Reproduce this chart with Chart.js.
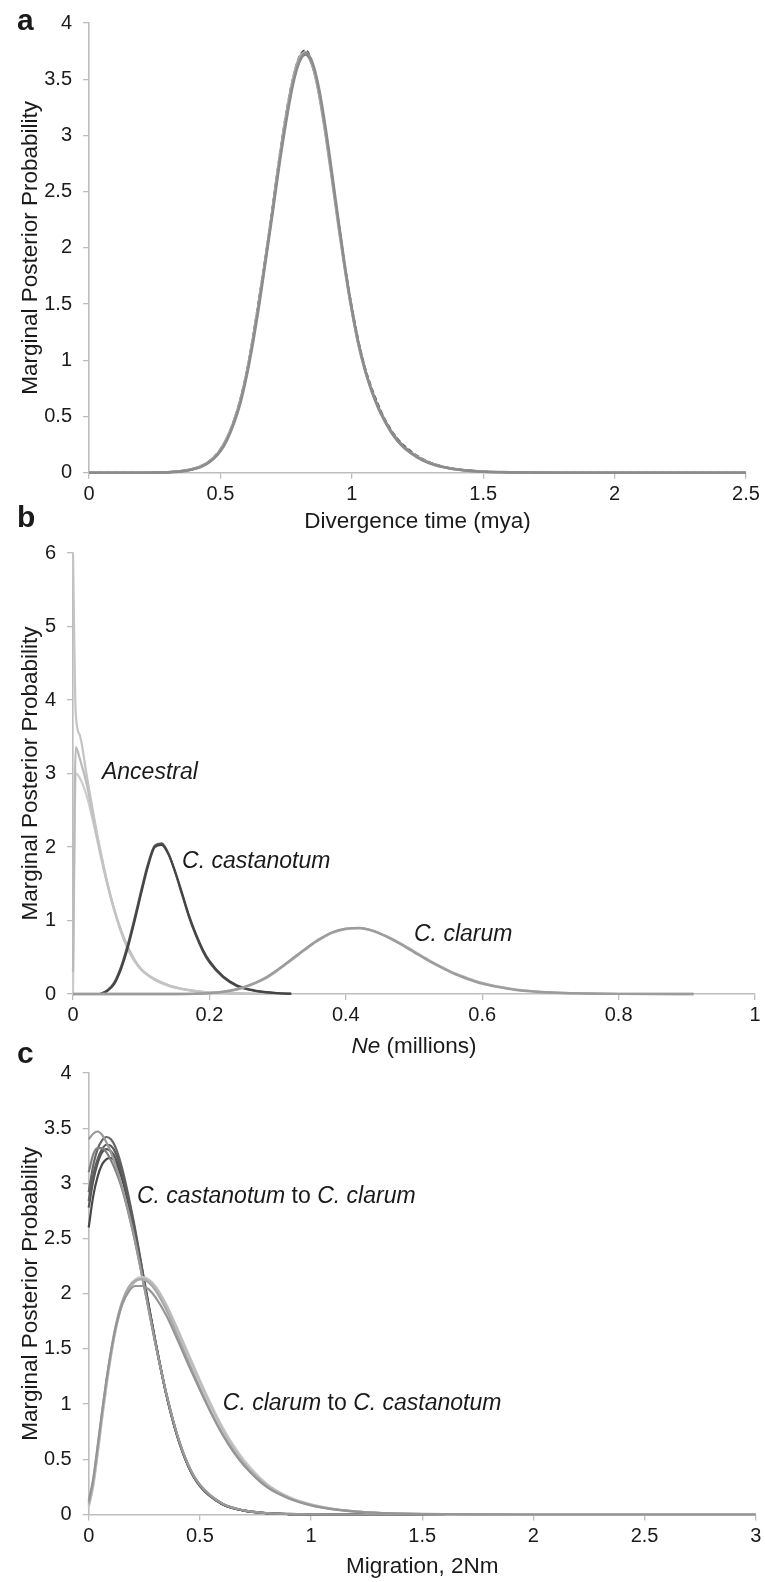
<!DOCTYPE html>
<html>
<head>
<meta charset="utf-8">
<script src="https://cdn.jsdelivr.net/npm/chart.js@4/dist/chart.umd.min.js"></script>
<style>
body { margin: 0; background: #fff; }
#wrap { position: relative; width: 765px; height: 1582px; }
canvas { position: absolute; left: 0; }
</style>
</head>
<body>
<div id="wrap">
  <canvas id="chartA" width="765" height="545" style="top:0px"></canvas>
  <canvas id="chartB" width="765" height="545" style="top:530px"></canvas>
  <canvas id="chartC" width="765" height="532" style="top:1050px"></canvas>
</div>
<script>
// ---- panel a: divergence time ----
const divX = [0, 0.1, 0.2, 0.25, 0.3, 0.325, 0.35, 0.375, 0.4, 0.425, 0.45, 0.475, 0.5, 0.525, 0.55, 0.575, 0.6, 0.625, 0.65, 0.675, 0.7, 0.725, 0.75, 0.775, 0.8, 0.825, 0.85, 0.875, 0.9, 0.925, 0.95, 0.975, 1.0, 1.025, 1.05, 1.075, 1.1, 1.125, 1.15, 1.175, 1.2, 1.25, 1.3, 1.35, 1.4, 1.45, 1.5, 1.6, 1.7, 1.8, 2.0, 2.5];
const divRun1 = [0, 0, 0, 0.001, 0.004, 0.008, 0.014, 0.022, 0.035, 0.055, 0.085, 0.13, 0.2, 0.3, 0.44, 0.63, 0.88, 1.2, 1.56, 1.95, 2.36, 2.78, 3.15, 3.46, 3.66, 3.72, 3.62, 3.38, 3.03, 2.62, 2.2, 1.8, 1.45, 1.15, 0.92, 0.74, 0.59, 0.47, 0.37, 0.29, 0.23, 0.14, 0.085, 0.05, 0.03, 0.018, 0.01, 0.004, 0.001, 0, 0, 0];
const divRun2 = [0, 0, 0, 0.002, 0.005, 0.01, 0.016, 0.025, 0.038, 0.06, 0.09, 0.14, 0.21, 0.31, 0.46, 0.65, 0.9, 1.23, 1.6, 1.98, 2.4, 2.82, 3.2, 3.5, 3.7, 3.76, 3.64, 3.4, 3.06, 2.64, 2.23, 1.83, 1.48, 1.18, 0.94, 0.76, 0.61, 0.48, 0.38, 0.3, 0.24, 0.15, 0.09, 0.055, 0.032, 0.02, 0.011, 0.004, 0.001, 0, 0, 0];
const divRun3 = [0, 0, 0, 0.001, 0.003, 0.007, 0.012, 0.02, 0.032, 0.05, 0.08, 0.125, 0.19, 0.29, 0.43, 0.61, 0.86, 1.17, 1.53, 1.93, 2.33, 2.75, 3.12, 3.44, 3.65, 3.73, 3.65, 3.42, 3.07, 2.66, 2.23, 1.82, 1.46, 1.16, 0.92, 0.73, 0.58, 0.46, 0.36, 0.28, 0.22, 0.135, 0.08, 0.048, 0.028, 0.016, 0.009, 0.003, 0.001, 0, 0, 0];
const divRun4 = [0, 0, 0, 0.001, 0.004, 0.009, 0.015, 0.024, 0.037, 0.058, 0.088, 0.135, 0.205, 0.31, 0.45, 0.64, 0.89, 1.21, 1.57, 1.96, 2.37, 2.8, 3.18, 3.49, 3.69, 3.74, 3.63, 3.37, 3.01, 2.6, 2.18, 1.79, 1.44, 1.14, 0.91, 0.73, 0.58, 0.46, 0.36, 0.28, 0.22, 0.14, 0.085, 0.05, 0.03, 0.018, 0.01, 0.004, 0.001, 0, 0, 0];
const divTicksX = [0, 0.5, 1, 1.5, 2, 2.5];
const divTicksY = [0, 0.5, 1, 1.5, 2, 2.5, 3, 3.5, 4];

// ---- panel b: Ne ----
const ancX = [0, 0.004, 0.01, 0.02, 0.03, 0.04, 0.05, 0.06, 0.07, 0.08, 0.09, 0.1, 0.12, 0.14, 0.16, 0.18, 0.2, 0.25, 0.3];
const anc1 = [6.0, 3.82, 3.52, 2.98, 2.45, 1.96, 1.53, 1.16, 0.86, 0.62, 0.45, 0.33, 0.2, 0.12, 0.07, 0.04, 0.022, 0.006, 0];
const anc2 = [0.3, 3.36, 3.2, 2.86, 2.4, 1.94, 1.52, 1.17, 0.88, 0.65, 0.47, 0.34, 0.2, 0.12, 0.07, 0.04, 0.02, 0.005, 0];
const anc3 = [0, 3.0, 2.94, 2.7, 2.32, 1.9, 1.5, 1.15, 0.86, 0.63, 0.46, 0.33, 0.19, 0.11, 0.065, 0.035, 0.02, 0.005, 0];
const casX = [0.04, 0.05, 0.06, 0.07, 0.08, 0.09, 0.1, 0.11, 0.12, 0.13, 0.14, 0.15, 0.16, 0.17, 0.18, 0.19, 0.2, 0.22, 0.24, 0.26, 0.28, 0.3, 0.32];
const cas1 = [0, 0.04, 0.13, 0.33, 0.62, 0.98, 1.37, 1.74, 2.0, 2.03, 1.9, 1.66, 1.37, 1.07, 0.82, 0.61, 0.45, 0.24, 0.12, 0.06, 0.028, 0.012, 0.004];
const cas2 = [0, 0.05, 0.15, 0.36, 0.66, 1.02, 1.41, 1.77, 2.02, 2.05, 1.91, 1.65, 1.35, 1.05, 0.8, 0.59, 0.43, 0.23, 0.11, 0.055, 0.025, 0.01, 0.003];
const claX = [0, 0.15, 0.2, 0.22, 0.24, 0.26, 0.28, 0.3, 0.32, 0.34, 0.36, 0.38, 0.4, 0.42, 0.44, 0.46, 0.48, 0.5, 0.52, 0.54, 0.56, 0.58, 0.6, 0.62, 0.65, 0.7, 0.75, 0.8, 0.91];
const cla1 = [0, 0, 0.012, 0.03, 0.065, 0.125, 0.21, 0.33, 0.47, 0.61, 0.74, 0.84, 0.89, 0.9, 0.86, 0.78, 0.68, 0.57, 0.46, 0.36, 0.27, 0.2, 0.14, 0.1, 0.055, 0.02, 0.007, 0.002, 0];
const cla2 = [0, 0, 0.01, 0.027, 0.06, 0.12, 0.2, 0.32, 0.46, 0.6, 0.73, 0.83, 0.885, 0.895, 0.86, 0.785, 0.69, 0.58, 0.47, 0.37, 0.28, 0.21, 0.15, 0.105, 0.06, 0.022, 0.008, 0.002, 0];
const neTicksX = [0, 0.2, 0.4, 0.6, 0.8, 1];
const neTicksY = [0, 1, 2, 3, 4, 5, 6];

// ---- panel c: migration ----
const migX1 = [0, 0.02, 0.04, 0.06, 0.08, 0.1, 0.12, 0.15, 0.2, 0.25, 0.3, 0.35, 0.4, 0.45, 0.5, 0.6, 0.7, 0.8, 0.9, 1.0, 1.2, 1.6];
const cas2cla1 = [3.40, 3.45, 3.47, 3.44, 3.37, 3.28, 3.17, 2.97, 2.56, 2.06, 1.55, 1.09, 0.71, 0.44, 0.27, 0.1, 0.037, 0.013, 0.005, 0.002, 0, 0];
const cas2cla2 = [3.10, 3.26, 3.32, 3.32, 3.28, 3.21, 3.12, 2.95, 2.55, 2.06, 1.55, 1.09, 0.71, 0.44, 0.27, 0.1, 0.037, 0.013, 0.005, 0.002, 0, 0];
const cas2cla3 = [2.92, 3.16, 3.31, 3.39, 3.42, 3.4, 3.33, 3.14, 2.68, 2.12, 1.57, 1.08, 0.7, 0.43, 0.26, 0.095, 0.035, 0.012, 0.004, 0.002, 0, 0];
const cas2cla4 = [2.78, 3.02, 3.18, 3.28, 3.31, 3.29, 3.23, 3.06, 2.63, 2.1, 1.56, 1.08, 0.7, 0.43, 0.26, 0.095, 0.035, 0.012, 0.004, 0.002, 0, 0];
const cas2cla5 = [2.6, 2.88, 3.06, 3.17, 3.22, 3.23, 3.19, 3.04, 2.62, 2.09, 1.56, 1.08, 0.7, 0.43, 0.26, 0.095, 0.035, 0.012, 0.004, 0.002, 0, 0];
const cas2cla6 = [2.84, 3.07, 3.22, 3.31, 3.35, 3.34, 3.28, 3.1, 2.66, 2.11, 1.57, 1.08, 0.7, 0.43, 0.26, 0.095, 0.035, 0.012, 0.004, 0.002, 0, 0];
const migX2 = [0, 0.02, 0.04, 0.06, 0.08, 0.1, 0.12, 0.15, 0.18, 0.21, 0.24, 0.27, 0.3, 0.35, 0.4, 0.45, 0.5, 0.55, 0.6, 0.65, 0.7, 0.8, 0.9, 1.0, 1.1, 1.2, 1.3, 1.4, 1.5, 1.7, 2.0, 3.0];
const cla2cas1 = [0.1, 0.3, 0.6, 0.92, 1.22, 1.48, 1.7, 1.93, 2.06, 2.12, 2.13, 2.1, 2.03, 1.85, 1.62, 1.38, 1.15, 0.93, 0.74, 0.58, 0.45, 0.26, 0.15, 0.085, 0.048, 0.027, 0.015, 0.008, 0.004, 0.001, 0, 0];
const cla2cas2 = [0.08, 0.27, 0.56, 0.88, 1.18, 1.44, 1.66, 1.9, 2.04, 2.11, 2.14, 2.12, 2.06, 1.89, 1.67, 1.43, 1.2, 0.98, 0.78, 0.61, 0.47, 0.27, 0.155, 0.09, 0.05, 0.028, 0.016, 0.009, 0.005, 0.001, 0, 0];
const cla2cas3 = [0.12, 0.32, 0.62, 0.93, 1.22, 1.47, 1.68, 1.9, 2.02, 2.07, 2.07, 2.04, 1.97, 1.8, 1.58, 1.35, 1.13, 0.92, 0.73, 0.57, 0.44, 0.25, 0.145, 0.082, 0.046, 0.026, 0.014, 0.008, 0.004, 0.001, 0, 0];
const cla2cas4 = [0.06, 0.25, 0.54, 0.86, 1.16, 1.43, 1.66, 1.91, 2.06, 2.13, 2.15, 2.13, 2.07, 1.9, 1.68, 1.45, 1.22, 1.0, 0.8, 0.63, 0.49, 0.28, 0.16, 0.092, 0.052, 0.029, 0.016, 0.009, 0.005, 0.001, 0, 0];
const migTicksX = [0, 0.5, 1, 1.5, 2, 2.5, 3];
const migTicksY = [0, 0.5, 1, 1.5, 2, 2.5, 3, 3.5, 4];

const FONT = '"Liberation Sans", Arial, Helvetica, sans-serif';
Chart.defaults.font.family = FONT;
const AXIS = '#bdbdbd';

function pts(xs, ys) {
    return xs.map((x, i) => ({x: x, y: ys[i]}));
}

function line(xs, ys, color, width, dash) {
    return {
        data: pts(xs, ys),
        borderColor: color,
        borderWidth: width || 2,
        borderDash: dash || [],
        pointRadius: 0,
        fill: false,
        cubicInterpolationMode: 'monotone',
        clip: false
    };
}

// free text: panel letters, annotations, mixed italic titles
const textPlugin = {
    id: 'panelText',
    afterDraw(chart, args, opts) {
        const ctx = chart.ctx;
        const xs = chart.scales.x, ys = chart.scales.y;
        (opts.items || []).forEach(item => {
            let x = item.px === 'mid' ? (chart.chartArea.left + chart.chartArea.right) / 2
                : (item.px !== undefined ? item.px : xs.getPixelForValue(item.dx));
            let y = item.py !== undefined ? item.py : ys.getPixelForValue(item.dy);
            const fontOf = p => (p.italic ? 'italic ' : '') + (p.bold ? 'bold ' : '') + item.size + 'px ' + FONT;
            ctx.save();
            ctx.fillStyle = item.color || '#1a1a1a';
            ctx.textBaseline = item.baseline || 'alphabetic';
            ctx.textAlign = 'left';
            let total = 0;
            item.parts.forEach(p => { ctx.font = fontOf(p); total += ctx.measureText(p.t).width; });
            if (item.align === 'center') x -= total / 2;
            item.parts.forEach(p => {
                ctx.font = fontOf(p);
                ctx.fillText(p.t, x, y);
                x += ctx.measureText(p.t).width;
            });
            ctx.restore();
        });
    }
};

function makePanel(id, o) {
    return new Chart(document.getElementById(id), {
        type: 'line',
        data: {datasets: o.datasets},
        plugins: [textPlugin],
        options: {
            responsive: false,
            animation: false,
            layout: {padding: {top: o.padTop, right: o.padRight, bottom: 0, left: 0}},
            plugins: {
                legend: {display: false},
                tooltip: {enabled: false},
                panelText: {items: o.texts}
            },
            scales: {
                x: {
                    type: 'linear',
                    min: o.xTicks[0],
                    max: o.xTicks[o.xTicks.length - 1],
                    afterBuildTicks: s => { s.ticks = o.xTicks.map(v => ({value: v})); },
                    afterFit: s => { s.height = o.xHeight; },
                    ticks: {
                        autoSkip: false, maxRotation: 0, padding: 3.5, color: '#1a1a1a',
                        font: {size: 20},
                        callback: (v, i) => String(o.xTicks[i])
                    },
                    grid: {drawOnChartArea: false, tickLength: 6, color: AXIS, lineWidth: 1.3},
                    border: {color: AXIS, width: 1.6},
                    title: {
                        display: !!o.xTitle, text: o.xTitle, color: '#1a1a1a',
                        font: {size: 22.5}, padding: {top: 0, bottom: o.xTitlePad || 0}
                    }
                },
                y: {
                    type: 'linear',
                    min: 0,
                    max: o.yTicks[o.yTicks.length - 1],
                    afterBuildTicks: s => { s.ticks = o.yTicks.map(v => ({value: v})); },
                    afterFit: s => { s.width = o.yWidth; },
                    ticks: {
                        padding: 11, color: '#1a1a1a', font: {size: 20},
                        callback: (v, i) => String(o.yTicks[i])
                    },
                    grid: {drawOnChartArea: false, tickLength: 6, color: AXIS, lineWidth: 1.3},
                    border: {color: AXIS, width: 1.6},
                    title: {
                        display: true, text: 'Marginal Posterior Probability', color: '#1a1a1a',
                        font: {size: 22.5}, padding: {top: 17.5, bottom: 0}
                    }
                }
            }
        }
    });
}

makePanel('chartA', {
    padTop: 22, padRight: 19, xHeight: 72.3, yWidth: 89,
    xTicks: divTicksX, yTicks: divTicksY,
    xTitle: 'Divergence time (mya)', xTitlePad: 9.5,
    datasets: [
        line(divX, divRun3, '#8c8c8c', 2.6),
        line(divX, divRun4, '#a9a9a9', 2.6),
        line(divX, divRun1, '#777777', 2.4),
        line(divX, divRun2, '#4d4d4d', 1.8, [5, 3])
    ],
    texts: [
        {parts: [{t: 'a', bold: true}], size: 30, px: 17, py: 30},
        {parts: [{t: 'b', bold: true}], size: 30, px: 17, py: 527}
    ]
});

makePanel('chartB', {
    padTop: 14, padRight: 10, xHeight: 81, yWidth: 73,
    xTicks: neTicksX, yTicks: neTicksY,
    datasets: [
        line(claX, cla1, '#9c9c9c', 2.4),
        line(claX, cla2, '#b0b0b0', 2.4),
        line(casX, cas1, '#454545', 2.2),
        line(casX, cas2, '#5a5a5a', 2.2),
        line(ancX, anc1, '#c4c4c4', 2.2),
        line(ancX, anc2, '#bababa', 2.2),
        line(ancX, anc3, '#cccccc', 2.2)
    ],
    texts: [
        {parts: [{t: 'c', bold: true}], size: 30, px: 17, py: 533},
        {parts: [{t: 'Ne', italic: true}, {t: ' (millions)'}], size: 22.5, px: 'mid', py: 517, align: 'center', baseline: 'middle'},
        {parts: [{t: 'Ancestral', italic: true}], size: 23, dx: 0.0425, dy: 2.92},
        {parts: [{t: 'C. castanotum', italic: true}], size: 23, dx: 0.16, dy: 1.72},
        {parts: [{t: 'C. clarum', italic: true}], size: 23, dx: 0.5, dy: 0.72}
    ]
});

makePanel('chartC', {
    padTop: 17.7, padRight: 9.3, xHeight: 67.5, yWidth: 88.7,
    xTicks: migTicksX, yTicks: migTicksY,
    xTitle: 'Migration, 2Nm', xTitlePad: 2.2,
    datasets: [
        line(migX2, cla2cas3, '#959595', 2.2),
        line(migX2, cla2cas1, '#a8a8a8', 2.2),
        line(migX2, cla2cas2, '#bcbcbc', 2.2),
        line(migX2, cla2cas4, '#c9c9c9', 2.2),
        line(migX1, cas2cla1, '#9a9a9a', 2.2),
        line(migX1, cas2cla2, '#808080', 2.2),
        line(migX1, cas2cla6, '#5c5c5c', 2.2),
        line(migX1, cas2cla3, '#666666', 2.2),
        line(migX1, cas2cla4, '#555555', 2.2),
        line(migX1, cas2cla5, '#474747', 2.2)
    ],
    texts: [
        {parts: [{t: 'C. castanotum', italic: true}, {t: ' to '}, {t: 'C. clarum', italic: true}], size: 23, dx: 0.217, dy: 2.82},
        {parts: [{t: 'C. clarum', italic: true}, {t: ' to '}, {t: 'C. castanotum', italic: true}], size: 23, dx: 0.603, dy: 0.945}
    ]
});
</script>
</body>
</html>
